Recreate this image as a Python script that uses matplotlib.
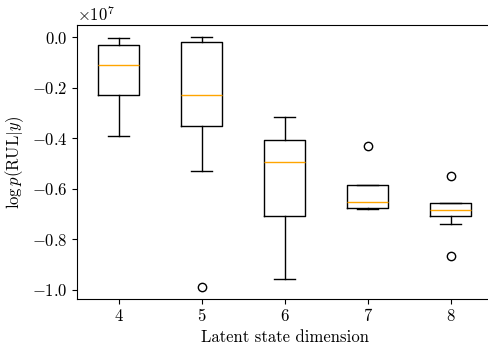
import matplotlib
matplotlib.use("Agg")
import matplotlib.pyplot as plt

# estilo tipo LaTeX
plt.rcParams['font.family'] = 'serif'
plt.rcParams['font.serif'] = ['cmr10']
plt.rcParams['mathtext.fontset'] = 'cm'
plt.rcParams['axes.formatter.use_mathtext'] = True
plt.rcParams['font.size'] = 12

# datos (en unidades de 1e7)
dims = [4, 5, 6, 7, 8]
whislo = [-0.390, -0.532, -0.959, -0.679, -0.739]
q1 = [-0.228, -0.351, -0.708, -0.676, -0.709]
med = [-0.111, -0.228, -0.493, -0.654, -0.683]
q3 = [-0.033, -0.021, -0.407, -0.585, -0.658]
whishi = [-0.0055, -0.0016, -0.315, -0.585, -0.656]
fliers = [[], [-0.988], [], [-0.430], [-0.552, -0.866]]

escala = 1e7
stats = []
for i in range(len(dims)):
    stats.append({
        'label': str(dims[i]),
        'whislo': whislo[i] * escala,
        'q1': q1[i] * escala,
        'med': med[i] * escala,
        'q3': q3[i] * escala,
        'whishi': whishi[i] * escala,
        'fliers': [f * escala for f in fliers[i]],
    })

fig = plt.figure(figsize=(4.89, 3.45), dpi=100)
ax = fig.add_axes([0.1575, 0.1333, 0.8487, 0.7942])
ax.bxp(stats, medianprops={'color': 'orange'})
ax.set_xlabel('Latent state dimension')
ax.set_ylabel(r'$\log p(\mathrm{RUL}|y)$')

fig.savefig('out.png', dpi=100)
